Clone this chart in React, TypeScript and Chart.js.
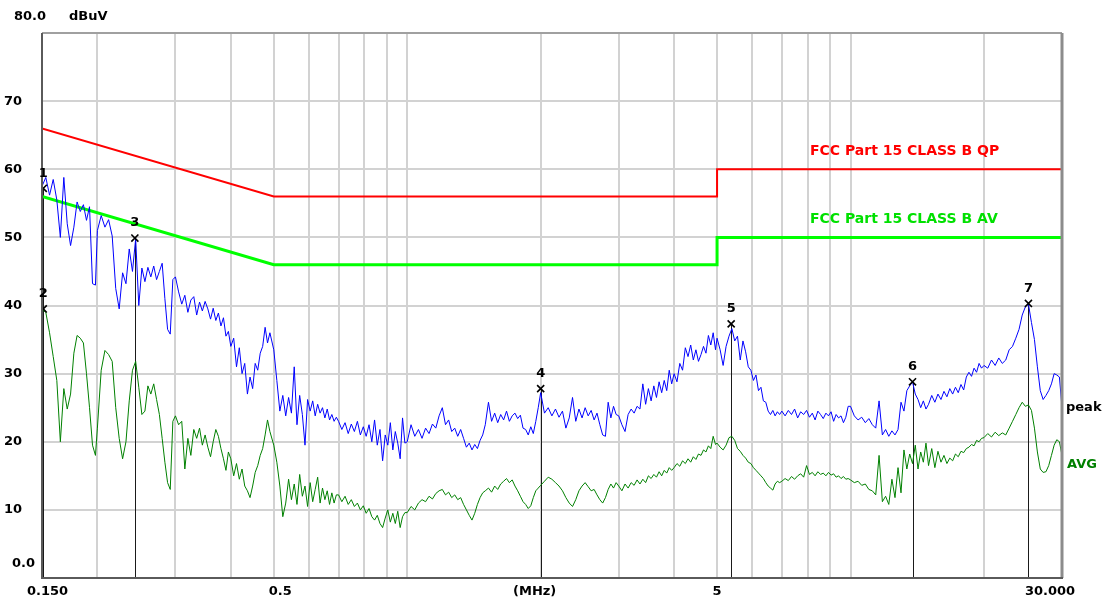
import React, { useEffect, useRef } from 'react';
import { Chart, registerables } from 'chart.js';

Chart.register(...registerables);

// Sweep frequencies (MHz), one line per band
const freqMHz: number[] = [
  0.150, 0.153, 0.156, 0.159, 0.162, 0.165, 0.168, 0.171, 0.174, 0.177, 0.180, 0.183, 0.186, 0.189, 0.192, 0.195, 0.198,
  0.200, 0.204, 0.208, 0.212, 0.216, 0.220, 0.224, 0.228, 0.232, 0.236, 0.240, 0.244, 0.248, 0.252, 0.256, 0.260, 0.264, 0.268, 0.272, 0.276, 0.280, 0.284, 0.288, 0.292, 0.296,
  0.300, 0.305, 0.310, 0.315, 0.320, 0.325, 0.330, 0.335, 0.340, 0.345, 0.350, 0.355, 0.360, 0.365, 0.370, 0.375, 0.380, 0.385, 0.390, 0.395,
  0.400, 0.406, 0.412, 0.418, 0.424, 0.430, 0.436, 0.442, 0.448, 0.454, 0.460, 0.466, 0.472, 0.478, 0.484, 0.490,
  0.500, 0.508, 0.516, 0.524, 0.532, 0.540, 0.548, 0.556, 0.564, 0.572, 0.580, 0.588, 0.596, 0.604, 0.612, 0.620, 0.628, 0.636, 0.644, 0.652, 0.660, 0.668, 0.676, 0.684, 0.692,
  0.700, 0.712, 0.724, 0.736, 0.748, 0.760, 0.772, 0.784, 0.796, 0.808, 0.820, 0.832, 0.844, 0.856, 0.868, 0.880, 0.892, 0.904, 0.916, 0.928, 0.940, 0.952, 0.964, 0.976, 0.988,
  1.00, 1.02, 1.04, 1.06, 1.08, 1.10, 1.12, 1.14, 1.16, 1.18, 1.20, 1.22, 1.24, 1.26, 1.28, 1.30, 1.32, 1.34, 1.36, 1.38, 1.40, 1.42, 1.44, 1.46, 1.48,
  1.500, 1.525, 1.550, 1.575, 1.600, 1.625, 1.650, 1.675, 1.700, 1.725, 1.750, 1.775, 1.800, 1.825, 1.850, 1.875, 1.900, 1.925, 1.950, 1.975,
  2.00, 2.04, 2.08, 2.12, 2.16, 2.20, 2.24, 2.28, 2.32, 2.36, 2.40, 2.44, 2.48, 2.52, 2.56, 2.60, 2.64, 2.68, 2.72, 2.76, 2.80, 2.84, 2.88, 2.92, 2.96,
  3.00, 3.05, 3.10, 3.15, 3.20, 3.25, 3.30, 3.35, 3.40, 3.45, 3.50, 3.55, 3.60, 3.65, 3.70, 3.75, 3.80, 3.85, 3.90, 3.95,
  4.00, 4.06, 4.12, 4.18, 4.24, 4.30, 4.36, 4.42, 4.48, 4.54, 4.60, 4.66, 4.72, 4.78, 4.84, 4.90, 4.96,
  5.00, 5.08, 5.16, 5.24, 5.32, 5.40, 5.48, 5.56, 5.64, 5.72, 5.80, 5.88, 5.96, 6.04, 6.12, 6.20, 6.28, 6.36, 6.44, 6.52, 6.60, 6.68, 6.76, 6.84, 6.92,
  7.00, 7.12, 7.24, 7.36, 7.48, 7.60, 7.72, 7.84, 7.96, 8.08, 8.20, 8.32, 8.44, 8.56, 8.68, 8.80, 8.92, 9.04, 9.16, 9.28, 9.40, 9.52, 9.64, 9.76, 9.88,
  10.0, 10.2, 10.4, 10.6, 10.8, 11.0, 11.2, 11.4, 11.6, 11.8, 12.0, 12.2, 12.4, 12.6, 12.8, 13.0, 13.2, 13.4, 13.6, 13.8, 14.0, 14.2, 14.4, 14.6, 14.8,
  15.00, 15.25, 15.50, 15.75, 16.00, 16.25, 16.50, 16.75, 17.00, 17.25, 17.50, 17.75, 18.00, 18.25, 18.50, 18.75, 19.00, 19.25, 19.50, 19.75,
  20.0, 20.4, 20.8, 21.2, 21.6, 22.0, 22.4, 22.8, 23.2, 23.6, 24.0, 24.4, 24.8, 25.2, 25.6, 26.0, 26.4, 26.8, 27.2, 27.6, 28.0, 28.4, 28.8, 29.2, 29.6, 30.0,
];

// Peak detector trace (dBuV)
const peakLevels: number[] = [
  57.5, 58.8, 56.2, 58.5, 55.5, 50.0, 58.8, 52.0, 48.8, 51.5, 55.2, 53.8, 54.8, 52.5, 54.5, 43.2, 43.0,
  51.0, 53.2, 51.5, 52.6, 50.2, 42.5, 39.5, 44.8, 43.2, 48.3, 45.0, 49.8, 40.0, 45.5, 43.5, 45.6, 44.2, 45.8, 43.8, 45.0, 46.2, 41.0, 36.5, 35.8, 43.8,
  44.2, 42.0, 40.2, 41.5, 39.0, 40.8, 41.3, 38.6, 40.5, 39.2, 40.6, 39.5, 38.0, 39.6, 37.8, 38.9, 37.0, 38.2, 35.5, 36.2,
  34.0, 35.2, 31.0, 33.8, 30.0, 31.5, 27.0, 29.5, 27.8, 31.5, 30.5, 33.0, 34.0, 36.8, 34.5, 36.0,
  33.5, 29.0, 24.5, 26.8, 23.8, 26.5, 24.2, 31.0, 22.5, 26.8, 24.0, 19.5, 26.2, 24.5, 26.0, 23.8, 25.5, 24.2, 25.0, 23.5, 24.8, 23.2, 24.0, 23.0, 23.6,
  23.0, 21.8, 22.8, 21.2, 22.6, 21.5, 23.0, 21.0, 22.2, 20.8, 22.5, 20.0, 23.2, 19.5, 21.8, 17.2, 21.0, 19.5, 22.8, 18.8, 21.5, 19.8, 17.5, 23.5, 19.8,
  20.0, 22.5, 20.8, 21.8, 20.5, 22.0, 21.2, 22.6, 22.0, 23.8, 25.0, 22.5, 23.2, 21.5, 22.0, 20.8, 21.8, 20.5, 19.2, 19.8, 18.8, 19.6, 19.0, 20.2, 21.0,
  22.5, 25.8, 23.0, 24.2, 22.8, 24.0, 23.2, 24.5, 23.0, 23.8, 24.2, 23.4, 23.9, 22.0, 21.8, 21.0, 22.2, 21.2, 23.0, 25.0,
  27.2, 24.2, 25.0, 23.8, 24.8, 23.6, 24.5, 22.0, 23.5, 26.5, 23.0, 24.8, 23.5, 25.0, 23.8, 24.6, 23.2, 24.2, 22.5, 21.0, 20.8, 25.8, 23.5, 25.2, 24.0,
  23.8, 22.5, 21.5, 24.0, 24.8, 24.2, 25.2, 24.8, 28.5, 25.5, 27.8, 26.0, 28.2, 26.5, 28.8, 27.2, 29.0, 27.5, 30.5, 28.5,
  30.0, 28.8, 31.5, 30.5, 33.8, 32.5, 34.2, 32.0, 33.5, 31.8, 32.8, 34.0, 33.0, 35.6, 34.2, 36.0, 33.5,
  35.2, 33.5, 31.2, 34.0, 35.5, 36.6, 34.8, 35.5, 32.0, 34.8, 33.2, 31.0, 30.5, 29.0, 29.8, 27.5, 28.0, 26.0, 25.8, 24.5, 24.0, 24.6, 23.8, 24.4, 24.0,
  24.5, 23.8, 24.6, 24.0, 24.8, 23.5, 24.4, 24.0, 24.6, 23.6, 24.2, 23.2, 24.5, 24.0, 23.4, 24.2, 23.8, 24.4, 23.0, 24.0, 23.5, 23.8, 22.8, 23.6, 25.2,
  25.2, 23.8, 23.2, 23.6, 22.8, 23.4, 22.5, 22.0, 26.0, 21.0, 21.8, 20.8, 21.6, 21.0, 21.8, 25.8, 24.5, 27.5, 28.2, 28.8, 27.0, 26.2, 25.0, 26.0, 24.8,
  25.5, 26.8, 25.8, 27.0, 26.2, 27.4, 26.6, 27.8, 27.0, 28.0, 27.2, 28.4, 27.6, 29.5, 30.2, 29.6, 30.8, 30.2, 31.5, 30.8,
  31.2, 30.8, 32.0, 31.2, 32.3, 31.5, 32.0, 33.5, 34.0, 35.2, 36.5, 38.6, 39.8, 40.2, 37.5, 35.0, 31.0, 27.5, 26.2, 26.8, 27.5, 28.5, 30.0, 29.8, 29.5, 25.0,
];

// Average detector trace (dBuV)
const avgLevels: number[] = [
  39.4, 39.0, 36.0, 32.5, 29.0, 20.0, 27.8, 24.8, 27.0, 33.0, 35.6, 35.2, 34.5, 30.0, 25.0, 19.5, 18.0,
  22.0, 30.5, 33.4, 32.8, 31.8, 25.0, 20.5, 17.5, 20.0, 26.0, 30.5, 31.8, 28.0, 24.0, 24.5, 28.2, 27.0, 28.5, 26.2, 24.0, 20.5, 17.0, 14.0, 13.0, 23.0,
  23.8, 22.5, 23.0, 16.0, 20.5, 18.0, 21.8, 20.5, 22.0, 19.5, 21.0, 19.2, 17.8, 20.0, 21.8, 20.8, 19.0, 17.5, 15.8, 18.5,
  17.5, 15.0, 16.8, 14.5, 16.0, 13.5, 12.8, 11.8, 13.5, 15.5, 16.5, 18.0, 19.0, 21.0, 23.2, 21.5,
  19.5, 17.0, 13.5, 9.0, 11.0, 14.5, 11.5, 13.8, 10.8, 15.2, 12.0, 13.5, 10.5, 14.0, 11.2, 13.0, 14.8, 11.0, 13.2, 11.5, 12.8, 10.8, 12.5, 11.0, 12.2,
  12.2, 11.2, 12.0, 10.8, 11.5, 10.5, 11.0, 10.0, 10.6, 9.5, 10.2, 9.0, 8.5, 9.2, 8.0, 7.4, 8.8, 10.0, 8.2, 9.5, 8.0, 9.8, 7.4, 9.0, 9.6,
  9.6, 10.5, 10.0, 11.0, 11.5, 11.2, 12.0, 11.6, 12.4, 12.8, 13.0, 12.2, 12.6, 11.8, 12.2, 11.5, 11.8, 10.8, 10.0, 9.2, 8.5, 9.5, 10.8, 11.8, 12.5,
  12.8, 13.2, 12.6, 13.5, 13.0, 13.8, 14.2, 14.6, 14.0, 14.4, 13.5, 12.8, 12.0, 11.2, 10.8, 10.2, 10.6, 11.8, 12.8, 13.2,
  13.6, 14.2, 14.8, 14.5, 14.0, 13.5, 12.8, 11.8, 11.0, 10.5, 11.5, 12.8, 13.5, 14.0, 13.4, 12.8, 13.0, 12.2, 11.5, 11.0, 11.8, 13.0, 13.8, 13.2, 14.0,
  13.5, 12.8, 13.8, 13.2, 14.0, 13.6, 14.4, 13.8, 14.5, 14.0, 15.0, 14.6, 15.2, 14.8, 15.6, 15.0, 15.8, 15.4, 16.2, 15.8,
  16.2, 16.8, 16.4, 17.2, 16.8, 17.5, 17.0, 17.8, 17.4, 18.2, 18.0, 18.8, 18.5, 19.4, 19.0, 20.8, 19.6,
  19.8, 19.2, 18.8, 19.5, 20.6, 20.8, 20.2, 19.0, 18.6, 18.0, 17.6, 17.0, 16.8, 16.2, 15.8, 15.4, 15.0, 14.6, 14.0, 13.5, 13.2, 12.9, 13.8, 14.2, 14.0,
  14.2, 14.6, 14.3, 14.9, 14.5, 15.0, 15.3, 14.8, 16.5, 15.2, 15.5, 15.0, 15.6, 15.2, 15.4, 15.0, 15.5, 15.1, 15.3, 14.8, 15.0, 14.6, 14.9, 14.5, 14.6,
  14.4, 14.0, 14.2, 13.6, 13.8, 13.0, 12.8, 12.2, 18.0, 11.2, 12.0, 10.8, 14.5, 11.8, 16.2, 12.5, 18.8, 16.0, 18.2, 16.8, 19.5, 16.0, 18.5, 17.0, 19.8,
  16.5, 19.0, 16.2, 18.6, 17.0, 18.0, 16.8, 17.6, 17.2, 18.2, 17.8, 18.6, 18.4, 19.0, 19.2, 19.6, 19.4, 20.2, 20.0, 20.5,
  20.6, 21.2, 20.7, 21.4, 20.9, 21.3, 21.0, 22.0, 23.0, 24.0, 25.0, 25.8, 25.2, 25.4, 24.6, 22.0, 18.5, 16.0, 15.5, 15.6, 16.5, 18.0, 19.5, 20.3, 20.0, 18.0,
];

// Limit lines
const qpLimitFreqs = [0.15, 0.5, 5, 5, 30];
const qpLimitLevels = [66, 56, 56, 60, 60];
const avLimitFreqs = [0.15, 0.5, 5, 5, 30];
const avLimitLevels = [56, 46, 46, 50, 50];
const qpLimitLabel = 'FCC Part 15 CLASS B QP';
const avLimitLabel = 'FCC Part 15 CLASS B AV';

// Markers
const markerNumbers = ['1', '2', '3', '4', '5', '6', '7'];
const markerFreqs = [0.151, 0.151, 0.243, 2.0, 5.38, 13.8, 25.2];
const markerLevels = [57.2, 39.5, 49.9, 27.8, 37.3, 28.8, 40.3];

// Axes
const xGridTicks = [0.15, 0.2, 0.3, 0.4, 0.5, 0.6, 0.7, 0.8, 0.9, 1, 2, 3, 4, 5, 6, 7, 8, 9, 10, 20, 30];
const xLabelValues = [0.15, 0.5, 2, 5, 30];
const xLabelTexts = ['0.150', '0.5', '(MHz)', '5', '30.000'];
const yMin = 0;
const yMax = 80;
const yStep = 10;
const yTopLabel = '80.0';
const yBottomLabel = '0.0';
const yUnit = 'dBuV';
const traceNames = ['peak', 'AVG'];

const FONT = '"DejaVu Sans", "Liberation Sans", sans-serif';

const overlayPlugin = {
  id: 'emiOverlay',
  beforeDatasetsDraw(chart: any) {
    const { ctx, scales, chartArea } = chart;
    const x = scales.x;
    const y = scales.y;
    ctx.save();
    ctx.strokeStyle = '#1a1a1a';
    ctx.lineWidth = 1;
    markerFreqs.forEach((f, i) => {
      const px = Math.round(x.getPixelForValue(f)) + 0.5;
      ctx.beginPath();
      ctx.moveTo(px, y.getPixelForValue(markerLevels[i]));
      ctx.lineTo(px, chartArea.bottom);
      ctx.stroke();
    });
    ctx.restore();
  },
  afterDraw(chart: any) {
    const { ctx, scales, chartArea } = chart;
    const x = scales.x;
    const y = scales.y;
    const { left, right, top, bottom } = chartArea;
    ctx.save();
    // frame
    ctx.lineWidth = 2;
    ctx.strokeStyle = '#a0a0a0';
    ctx.beginPath(); ctx.moveTo(left, top); ctx.lineTo(right, top); ctx.stroke();
    ctx.lineWidth = 3;
    ctx.strokeStyle = '#8c8c8c';
    ctx.beginPath(); ctx.moveTo(right, top); ctx.lineTo(right, bottom); ctx.stroke();
    ctx.lineWidth = 2;
    ctx.strokeStyle = '#5a5a5a';
    ctx.beginPath(); ctx.moveTo(left, top); ctx.lineTo(left, bottom + 1); ctx.stroke();
    ctx.beginPath(); ctx.moveTo(left, bottom); ctx.lineTo(right + 1, bottom); ctx.stroke();

    ctx.textBaseline = 'middle';
    ctx.fillStyle = '#000';
    ctx.font = `bold 13px ${FONT}`;
    // y extras
    ctx.textAlign = 'right';
    ctx.fillText(yTopLabel, left + 4, 17);
    ctx.fillText(yBottomLabel, left - 7, bottom - 14);
    ctx.textAlign = 'left';
    ctx.fillText(yUnit, left + 27, 17);

    // x labels
    const xOffsets = [5.5, 6.5, -6, 0, -12];
    ctx.textAlign = 'center';
    xLabelValues.forEach((v, i) => {
      ctx.fillText(xLabelTexts[i], x.getPixelForValue(v) + xOffsets[i], bottom + 14);
    });

    // marker numbers
    ctx.textAlign = 'center';
    markerFreqs.forEach((f, i) => {
      ctx.fillText(markerNumbers[i], x.getPixelForValue(f), y.getPixelForValue(markerLevels[i]) - 15);
    });

    // trace names
    ctx.textAlign = 'left';
    ctx.fillStyle = '#000';
    ctx.fillText(traceNames[0], right + 4, y.getPixelForValue(25));
    ctx.fillStyle = '#008000';
    ctx.fillText(traceNames[1], right + 5, y.getPixelForValue(16.6));

    // limit names
    ctx.font = `bold 14px ${FONT}`;
    ctx.fillStyle = '#ff0000';
    ctx.fillText(qpLimitLabel, x.getPixelForValue(8.1), y.getPixelForValue(qpLimitLevels[4]) - 18);
    ctx.fillStyle = '#00e000';
    ctx.fillText(avLimitLabel, x.getPixelForValue(8.1), y.getPixelForValue(avLimitLevels[4]) - 18);
    ctx.restore();
  },
};

export default function App() {
  const canvasRef = useRef<HTMLCanvasElement | null>(null);

  useEffect(() => {
    const canvas = canvasRef.current;
    if (!canvas) return;
    const n = Math.min(freqMHz.length, peakLevels.length, avgLevels.length);
    const peakData = [];
    const avgData = [];
    for (let i = 0; i < n; i++) {
      peakData.push({ x: freqMHz[i], y: peakLevels[i] });
      avgData.push({ x: freqMHz[i], y: avgLevels[i] });
    }
    const gridColor = '#d2d2d2';
    const chart = new Chart(canvas, {
      type: 'line',
      data: {
        datasets: [
          {
            label: 'markers',
            data: markerFreqs.map((f, i) => ({ x: f, y: markerLevels[i] })),
            showLine: false,
            pointStyle: 'crossRot',
            pointRadius: 5,
            pointBorderWidth: 1.6,
            pointBorderColor: '#000',
            pointBackgroundColor: '#000',
            borderColor: '#000',
            order: 0,
          },
          {
            label: traceNames[0],
            data: peakData,
            borderColor: '#0000ff',
            borderWidth: 1,
            pointRadius: 0,
            tension: 0,
            order: 1,
          },
          {
            label: traceNames[1],
            data: avgData,
            borderColor: '#008000',
            borderWidth: 1,
            pointRadius: 0,
            tension: 0,
            order: 2,
          },
          {
            label: qpLimitLabel,
            data: qpLimitFreqs.map((f, i) => ({ x: f, y: qpLimitLevels[i] })),
            borderColor: '#ff0000',
            borderWidth: 2,
            pointRadius: 0,
            tension: 0,
            order: 3,
          },
          {
            label: avLimitLabel,
            data: avLimitFreqs.map((f, i) => ({ x: f, y: avLimitLevels[i] })),
            borderColor: '#00ff00',
            borderWidth: 3,
            pointRadius: 0,
            tension: 0,
            order: 4,
          },
        ],
      },
      options: {
        responsive: false,
        animation: false,
        devicePixelRatio: 1,
        events: [],
        layout: { padding: { top: 33, right: 50, left: 0, bottom: 0 } },
        plugins: { legend: { display: false }, tooltip: { enabled: false } },
        scales: {
          x: {
            type: 'logarithmic',
            min: 0.15,
            max: 30,
            afterFit: (s: any) => { s.height = 28; },
            afterBuildTicks: (s: any) => { s.ticks = xGridTicks.map((v) => ({ value: v })); },
            ticks: { display: false },
            grid: { color: gridColor, lineWidth: 2, drawTicks: false },
            border: { display: false },
          },
          y: {
            type: 'linear',
            min: yMin,
            max: yMax,
            afterFit: (s: any) => { s.width = 42; },
            ticks: {
              stepSize: yStep,
              padding: 20,
              color: '#000',
              font: { family: FONT, size: 13, weight: 'bold' },
              callback: (v: any) => (v === yMin || v === yMax ? '' : String(v)),
            },
            grid: { color: gridColor, lineWidth: 2, drawTicks: false },
            border: { display: false },
          },
        },
      } as any,
      plugins: [overlayPlugin],
    } as any);
    return () => chart.destroy();
  }, []);

  return (
    <div style={{ position: 'fixed', left: 0, top: 0, width: 1112, height: 606, background: '#fff' }}>
      <canvas ref={canvasRef} width={1112} height={606} style={{ display: 'block' }} />
    </div>
  );
}
